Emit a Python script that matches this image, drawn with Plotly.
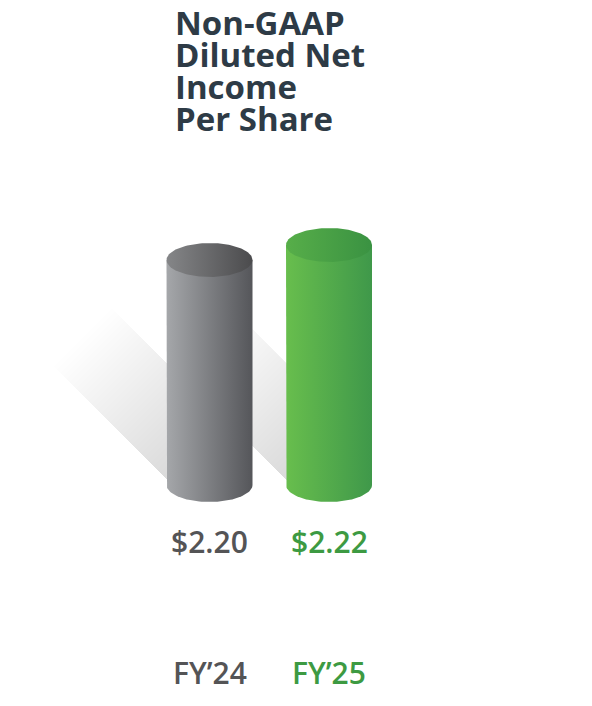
import numpy as np
import plotly.graph_objects as go

# data
years = ['FY’24', 'FY’25']
values = [2.20, 2.22]
value_labels = ['$2.20', '$2.22']
title_lines = ['Non-GAAP', 'Diluted Net', 'Income', 'Per Share']

BASE = 1.9  # truncated axis: the cylinders start here

W, H = 592, 706
OFF = 8          # page body margin in the browser
X_PX = 119.5     # px per category step
Y_PX = 750.0     # px per $1
BASE_PX = 485 - OFF   # pixel row of the base ellipse centre
X0_PX = 209.5 - OFF   # pixel column of the first cylinder

RX = 43 / X_PX
RY = 17 / Y_PX

body_cols = [('#a5a7aa', '#55565a'), ('#68be4d', '#3f984a')]
top_cols = [('#858688', '#4b4b4d'), ('#57ae49', '#3a9242')]
text_cols = ['#545456', '#3d9a42']
TITLE_COL = '#2e3b46'


def px2x(i, dx):
	return i + dx / X_PX


def px2y(dy):
	# dy in pixels measured downward from the base ellipse centre
	return BASE - dy / Y_PX


fig = go.Figure()

# diagonal shadows (drawn first, each cylinder hides its own start)
u = np.array([-1, -1]) / np.sqrt(2)
n = np.array([1, -1]) / np.sqrt(2)
L0 = np.array([0, 38])
band = 83.4
s0, s_end = 45, 221
steps = 40
for i in range(len(values)):
	for k in range(steps):
		s1 = s0 + (s_end - s0) * (k + 1) / steps
		a = L0 + s0 * u
		b = L0 + s1 * u
		c = b + band * n
		d = a + band * n
		pts = [a, b, c, d, a]
		fig.add_trace(go.Scatter(
			x=[px2x(i, p[0]) for p in pts],
			y=[px2y(p[1]) for p in pts],
			mode='lines', fill='toself', line=dict(width=0),
			fillcolor='rgba(0,0,0,0.0056)', hoverinfo='skip', showlegend=False))

# cylinders
t = np.linspace(0, np.pi, 60)
tt = np.linspace(0, 2 * np.pi, 120)
for i, v in enumerate(values):
	xs = [i - RX] + list(i - RX * np.cos(t)) + [i + RX, i - RX]
	ys = [v] + list(BASE - RY * np.sin(t)) + [v, v]
	fig.add_trace(go.Scatter(
		x=xs, y=ys, mode='lines', fill='toself', line=dict(width=0),
		fillgradient=dict(type='horizontal', colorscale=[[0, body_cols[i][0]], [1, body_cols[i][1]]],
						  start=i - RX, stop=i + RX),
		hoverinfo='skip', showlegend=False))
	fig.add_trace(go.Scatter(
		x=i + RX * np.cos(tt), y=v + RY * np.sin(tt), mode='lines', fill='toself', line=dict(width=0),
		fillgradient=dict(type='horizontal', colorscale=[[0, top_cols[i][0]], [1, top_cols[i][1]]],
						  start=i - RX, stop=i + RX),
		hoverinfo='skip', showlegend=False))

annotations = []
for k, line in enumerate(title_lines):
	annotations.append(dict(
		text=line, xref='paper', yref='paper', x=(176 - OFF - 3) / W, y=1 - (24 - OFF - 1 + k * 31.8) / H,
		xanchor='left', yanchor='middle', showarrow=False,
		font=dict(family='Open Sans', size=33, color=TITLE_COL, weight='bold')))
for i in range(len(values)):
	annotations.append(dict(
		text=value_labels[i], xref='x', yref='paper', x=i, y=1 - (541 - OFF) / H,
		xanchor='center', yanchor='middle', showarrow=False,
		font=dict(family='Open Sans', size=30, color=text_cols[i], weight=600)))
	annotations.append(dict(
		text=years[i], xref='x', yref='paper', x=i, y=1 - (672 - OFF) / H,
		xanchor='center', yanchor='middle', showarrow=False,
		font=dict(family='Open Sans', size=30, color=text_cols[i], weight=600)))

fig.update_layout(
	width=W, height=H, autosize=False,
	margin=dict(l=0, r=0, t=0, b=0),
	paper_bgcolor='white', plot_bgcolor='white',
	xaxis=dict(range=[-X0_PX / X_PX, (W - X0_PX) / X_PX], visible=False, fixedrange=True),
	yaxis=dict(range=[BASE - (H - BASE_PX) / Y_PX, BASE + BASE_PX / Y_PX], visible=False, fixedrange=True),
	annotations=annotations,
	showlegend=False,
)

fig.write_html('out.html')
